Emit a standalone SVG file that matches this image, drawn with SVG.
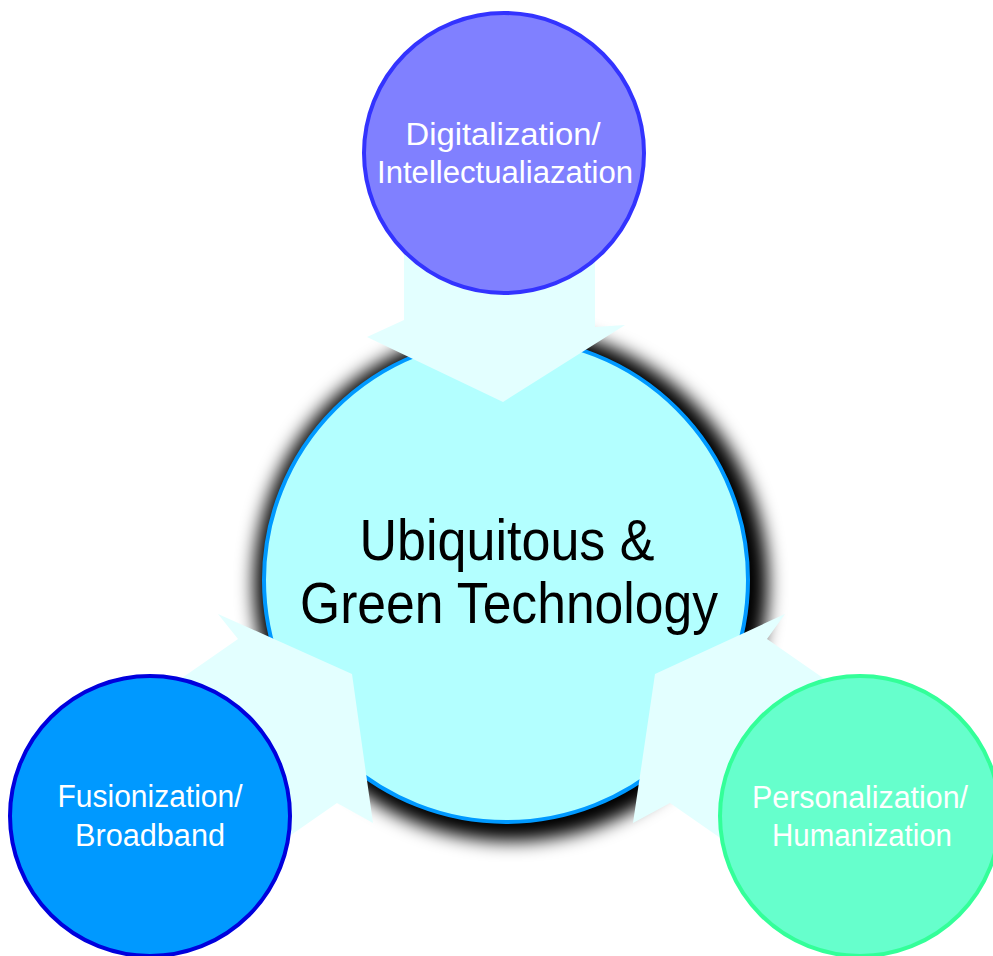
<svg xmlns="http://www.w3.org/2000/svg" width="993" height="956" viewBox="0 0 993 956">
<defs>
<filter id="blur" x="-20%" y="-20%" width="140%" height="140%"><feGaussianBlur stdDeviation="9"/></filter>
</defs>
<style>
.lbl{font-family:"Liberation Sans",Arial,sans-serif;font-size:31px;fill:#ffffff;text-anchor:middle;}
.main{font-family:"Liberation Sans",Arial,sans-serif;font-size:57px;fill:#000000;text-anchor:middle;}
.arr{fill:#e3ffff;}
</style>
<rect width="993" height="956" fill="#ffffff"/>
<g id="center">
<circle cx="511" cy="584" r="257" fill="#000000" filter="url(#blur)"/>
<circle cx="506" cy="580" r="242" fill="#b3ffff" stroke="#0099ff" stroke-width="4"/>
<text class="main" x="507" y="560" textLength="295" lengthAdjust="spacingAndGlyphs">Ubiquitous &amp;</text>
<text class="main" x="509" y="623" textLength="418" lengthAdjust="spacingAndGlyphs">Green Technology</text>
</g>
<g id="connectors" class="arr">
<polygon points="404,240 595,240 595,327 625,325 503,402 367,337 404,320"/>
<polygon points="156,696 238,639 218,614 352,674 373,823 337,803 255,860"/>
<polygon points="849,696 767,639 785,614 655,674 633,823 670,803 752,860"/>
</g>
<g id="top">
<circle cx="504" cy="153" r="140" fill="#8080ff" stroke="#3333ff" stroke-width="4"/>
<text class="lbl" x="503" y="145" textLength="195" lengthAdjust="spacingAndGlyphs">Digitalization/</text>
<text class="lbl" x="505" y="183" textLength="256" lengthAdjust="spacingAndGlyphs">Intellectualiazation</text>
</g>
<g id="left">
<circle cx="150" cy="816" r="140" fill="#0099ff" stroke="#0000dd" stroke-width="4"/>
<text class="lbl" x="150" y="807" textLength="185" lengthAdjust="spacingAndGlyphs">Fusionization/</text>
<text class="lbl" x="150" y="846" textLength="150" lengthAdjust="spacingAndGlyphs">Broadband</text>
</g>
<g id="right">
<circle cx="860" cy="816" r="140" fill="#66ffcc" stroke="#33ff99" stroke-width="4"/>
<text class="lbl" x="860" y="808" textLength="216" lengthAdjust="spacingAndGlyphs">Personalization/</text>
<text class="lbl" x="862" y="846" textLength="180" lengthAdjust="spacingAndGlyphs">Humanization</text>
</g>
</svg>
